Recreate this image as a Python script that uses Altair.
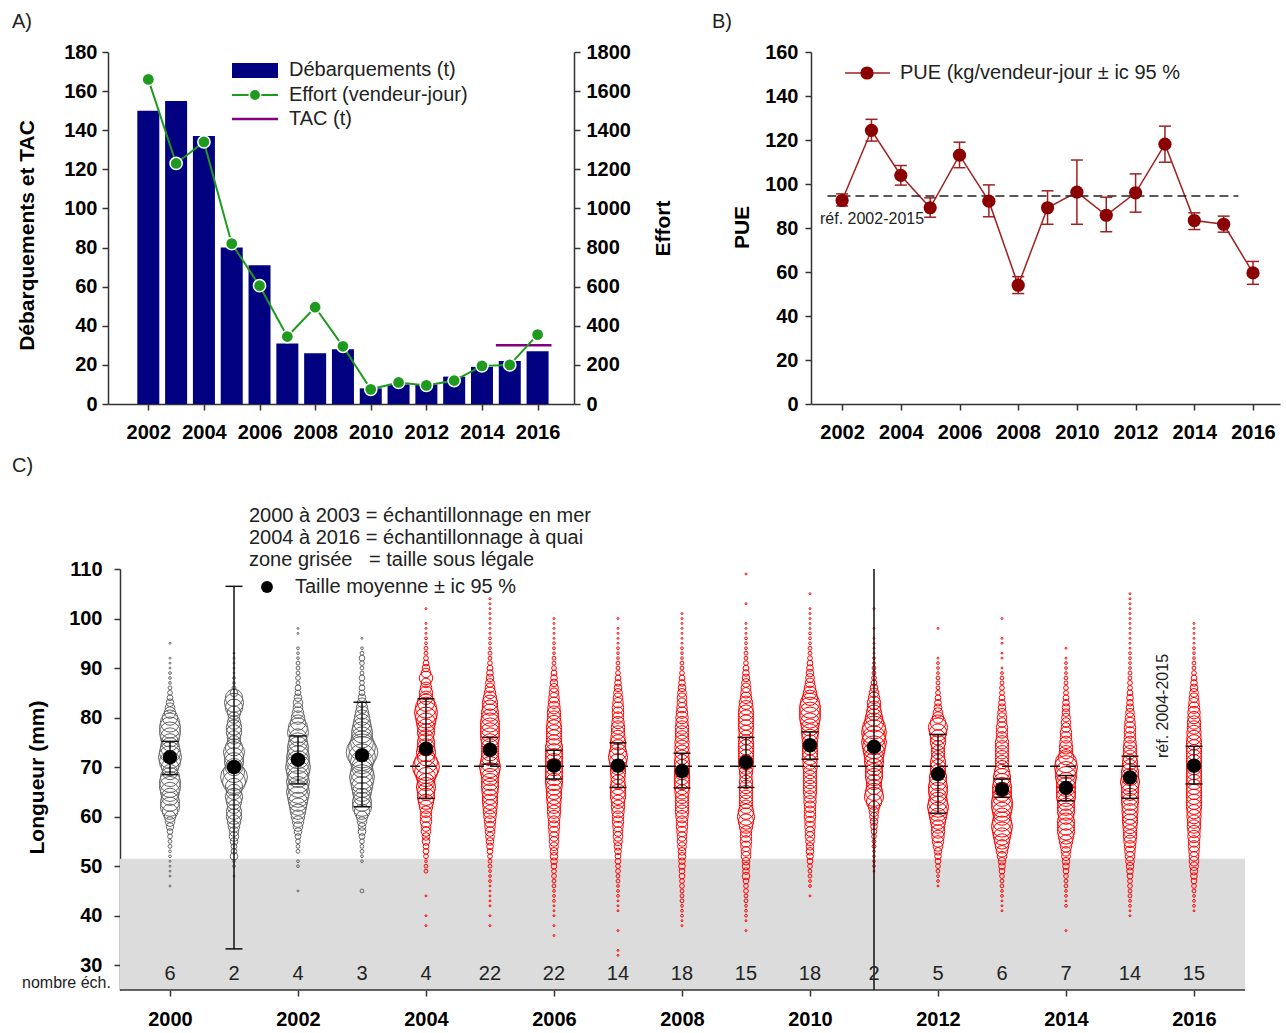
import altair as alt
import pandas as pd

FONT = "Liberation Sans"
NAVY = "#000080"
GREEN = "#1e9b1e"
PURPLE = "#800080"
DRED = "#8b0000"
BRED = "#a02020"
TXT = "#222222"

# ---------------- Panel A : landings, effort, TAC ----------------
years_a = list(range(2002, 2017))
landings_t = [150, 155, 137, 80, 71, 31, 26, 28, 8, 10, 10, 14, 19, 22, 27]
effort_vj = [1660, 1230, 1340, 820, 605, 345, 495, 295, 75, 110, 95, 120, 195, 200, 355]
tac_span = [2014.5, 2016.5]
tac_t = 30

# ---------------- Panel B : CPUE ----------------
pue = [92.5, 124.4, 103.9, 89.2, 113.1, 92.2, 54.0, 89.2, 96.3, 85.8, 96.0, 118.1, 83.4, 81.7, 59.6]
pue_lo = [90.0, 119.5, 99.5, 84.9, 107.4, 85.1, 50.2, 81.7, 81.7, 78.3, 87.2, 109.9, 79.3, 78.1, 54.4]
pue_hi = [95.5, 129.4, 108.4, 93.7, 119.0, 99.6, 57.9, 96.9, 110.9, 94.0, 104.6, 126.3, 86.9, 85.4, 64.8]
pue_ref = 94.5
pue_ref_span = [2001.5, 2015.5]

# ---------------- Panel C : length frequencies ----------------
years_c = list(range(2000, 2017))
n_samples = [6, 2, 4, 3, 4, 22, 22, 14, 18, 15, 18, 2, 5, 6, 7, 14, 15]
mean_len = [72.0, 70.0, 71.5, 72.4, 73.7, 73.5, 70.3, 70.3, 69.2, 71.0, 74.4, 74.1, 68.6, 65.5, 65.8, 67.9, 70.3]
ci_lo = [68.5, 33.3, 66.6, 62.0, 63.7, 70.6, 67.6, 65.9, 65.8, 65.9, 71.6, 15.0, 60.7, 63.9, 63.2, 63.7, 66.6]
ci_hi = [75.2, 106.5, 76.3, 83.1, 83.8, 76.0, 73.4, 74.9, 72.8, 76.0, 77.1, 133.0, 76.6, 67.6, 68.3, 72.2, 74.2]
len_ref = 70.2
len_ref_span = [2003.5, 2015.5]
legal_size = 51.5
sea_years_last = 2003

# first length (mm) of each year's frequency list
len_start = [46, 48, 45, 45, 38, 38, 36, 32, 38, 37, 44, 49, 46, 41, 37, 40, 41]
counts_2000 = [1,0,1,1,1,1,2,2,4,4, 6,9,16,25,36,64,100,100,81,100, 121,121,100,64,81,121,144,121,100,81,
               100,121,121,100,64,36,25,16,9,6, 4,2,2,2,1,1,1,0,0,1]
counts_2001 = [1,0,2,2,16,9,9,16,25,25, 36,49,64,64,49,64,81,64,81,144, 196,121,81,100,100,121,81,49,49,64,
               64,49,36,49,81,100,81,16,4,2, 2,1,1,1,1,1]
counts_2002 = [1,0,0,0,0,2,2,0,4,4, 6,9,16,25,36,49,64,81,100,121, 144,121,144,121,144,169,144,144,121,121,
               100,81,121,100,64,49,36,25,25,16, 9,9,4,6,4,4,4,2,2,2, 0,0,1,1]
counts_2003 = [4,0,0,0,0,0,2,2,4,4, 6,9,16,16,25,36,64,100,100,81, 100,121,144,169,144,121,144,196,272,196,
               144,121,121,100,81,64,49,36,25,16, 9,9,6,9,4,4,6,9,4,2, 0,1]
counts_2004 = [1,0,1,0,0,0,1,0,0,0, 0,4,4,2,6,9,9,16,16,25, 25,36,36,36,49,64,81,81,100,81,
               100,144,196,144,81,100,81,81,64,81, 81,100,121,144,121,81,49,49,36,25, 49,25,16,9,6,4,4,2,2,1,
               1,1,0,0,1]
counts_2005 = [1,0,1,0,1,1,1,1,1,2, 2,2,4,4,6,9,12,16,20,25, 30,36,42,49,56,64,64,72,81,81,
               81,100,121,100,81,81,81,81,100,100, 100,100,81,81,64,64,49,36,25,20, 16,12,9,6,4,4,2,2,2,1,
               1,1,1,1,1,1,1]
counts_2006 = [1,0,1,0,1,1,1,2,2,2, 4,4,6,6,9,12,16,16,20,25, 25,30,36,36,42,49,49,56,64,64,
               72,81,81,81,81,81,81,81,81,64, 64,64,64,56,49,49,42,36,30,25, 20,16,12,9,6,4,4,2,2,2,
               1,1,1,1,1]
counts_2007 = [1,1,0,0,0,1,0,0,0,1, 1,1,2,2,2,4,4,6,6,9, 9,12,16,20,25,25,30,36,36,42,
               49,49,64,64,64,56,56,64,64,81, 100,81,64,64,56,49,49,42,36,36, 36,30,25,20,16,12,9,6,4,4,
               2,2,2,1,1,1,1,0,1]
counts_2008 = [1,1,2,2,2,4,4,4,6,6, 9,9,12,12,16,16,20,25,25,30, 36,36,42,49,49,49,49,56,64,64,
               64,64,64,64,56,56,56,56,49,49, 49,42,42,36,30,25,25,20,16,12, 9,6,4,4,2,2,2,1,1,1,
               1,1,1,1]
counts_2009 = [1,0,1,2,2,2,4,4,6,6, 9,16,12,16,16,25,25,30,36,36, 36,49,64,81,64,49,49,49,49,49,
               49,42,49,56,64,64,64,64,64,56, 56,64,64,64,64,56,49,36,30,25, 20,16,12,9,6,4,4,2,2,2,
               1,1,1,0,0,0,1,0,0,0, 0,0,1]
counts_2010 = [1,0,2,2,4,4,6,9,12,16, 16,20,25,25,30,30,36,36,36,42, 42,49,49,49,49,49,56,56,64,64,
               64,64,72,81,81,100,121,121,121,100, 64,49,36,25,20,16,12,9,6,4, 4,2,2,2,1,1,1,1,1,0,
               0,1]
counts_2011 = [1,2,2,2,2,4,4,6,9,12, 16,20,25,36,64,100,81,64,64,81, 81,81,100,100,121,144,169,144,169,144,
               100,81,64,49,49,36,25,16,9,6, 4,4,2,2,1,1,1,1,0,1, 0,0,0,1]
counts_2012 = [1,2,2,4,6,9,12,16,25,36, 42,49,49,64,81,100,121,100,81,100, 100,81,81,64,64,64,49,49,49,64,
               64,81,100,64,36,25,16,12,9,6, 4,4,4,2,2,2,1,0,0,0, 0,0,1]
counts_2013 = [1,1,1,2,2,4,4,6,9,12, 16,25,36,49,64,81,100,121,100,81, 100,121,121,100,100,100,81,81,64,49,
               49,49,49,49,49,36,36,36,25,25, 20,16,12,9,6,6,4,4,2,1, 0,1,1,0,1,1,0,0,0,1]
counts_2014 = [1,0,0,0,0,2,1,2,2,4, 4,6,9,12,16,20,25,36,49,64, 81,81,81,64,81,81,81,100,100,100,
               100,121,121,144,121,64,49,49,42,36, 36,25,25,20,16,16,12,9,6,6, 4,4,2,2,2,1,0,1]
counts_2015 = [1,1,2,2,4,4,6,6,9,12, 16,20,25,30,36,42,49,49,56,64, 64,72,72,81,81,81,81,100,81,81,
               64,64,56,49,49,42,36,36,36,30, 25,20,16,12,12,9,6,6,4,4, 2,2,2,2,1,1,1,1,1,1,
               1,1,1,1,1,1]
counts_2016 = [1,2,2,2,4,6,9,12,16,20, 25,25,30,36,36,42,42,49,49,56, 56,64,64,64,64,64,64,64,64,64,
               64,64,64,64,64,56,56,49,49,42, 42,36,30,25,20,16,12,9,6,4, 4,2,2,2,1,1,1,1,1]
counts_by_year = [counts_2000, counts_2001, counts_2002, counts_2003, counts_2004, counts_2005,
                  counts_2006, counts_2007, counts_2008, counts_2009, counts_2010, counts_2011,
                  counts_2012, counts_2013, counts_2014, counts_2015, counts_2016]

one = pd.DataFrame({"k": [0]})


def label(text, x, y, size=20, align="left", angle=0, color=TXT):
    kw = dict(align=align, baseline="middle", fontSize=size, font=FONT, color=color)
    if angle:
        kw["angle"] = angle
    return alt.Chart(one).mark_text(**kw).encode(
        x=alt.value(x), y=alt.value(y), text=alt.value(text))


def extent(x0, x1, y0, y1):
    # invisible box that fixes the panel's layout bounds
    return alt.Chart(one).mark_rect(fill="white", opacity=0).encode(
        x=alt.value(x0), x2=alt.value(x1), y=alt.value(y0), y2=alt.value(y1))


AX = dict(labelFont=FONT, labelFontSize=20, labelFontWeight="bold", labelColor="black",
          titleFont=FONT, titleFontSize=21, titleFontWeight="bold", titleColor="black",
          domainColor="#333333", domainWidth=1.5, tickColor="#333333", tickWidth=1.5, tickSize=6,
          grid=False, labelFlush=False)

# ================= Panel A =================
dfA = pd.DataFrame({"year": years_a, "landings": landings_t, "effort": effort_vj})
xA_scale = alt.Scale(domain=[2000.73, 2017.13], nice=False, zero=False)
xA_axis = alt.Axis(values=list(range(2002, 2017, 2)), format="d", title=None, labelPadding=12, **AX)
yL_scale = alt.Scale(domain=[0, 180], nice=False)
yL_axis = alt.Axis(values=list(range(0, 181, 20)), title="Débarquements et TAC",
                   titleX=-81, titleY=183, titleAngle=270, titleBaseline="middle", labelPadding=5, **AX)
yR_scale = alt.Scale(domain=[0, 1800], nice=False)
yR_axis = alt.Axis(orient="right", values=list(range(0, 1801, 200)), format="d", title="Effort",
                   titleX=89, titleY=176, titleAngle=270, titleBaseline="middle", labelPadding=6, **AX)

bars = alt.Chart(dfA).mark_bar(size=22, color=NAVY).encode(
    x=alt.X("year:Q", scale=xA_scale, axis=xA_axis),
    y=alt.Y("landings:Q", scale=yL_scale, axis=yL_axis))
tacdf = pd.DataFrame({"x0": [tac_span[0]], "x1": [tac_span[1]], "tac": [tac_t]})
tac = alt.Chart(tacdf).mark_rule(color=PURPLE, strokeWidth=2.5).encode(
    x=alt.X("x0:Q", scale=xA_scale, axis=xA_axis), x2="x1:Q",
    y=alt.Y("tac:Q", scale=yL_scale, axis=yL_axis))
left = alt.layer(bars, tac)

eline = alt.Chart(dfA).mark_line(color=GREEN, strokeWidth=2).encode(
    x=alt.X("year:Q", scale=xA_scale, axis=xA_axis),
    y=alt.Y("effort:Q", scale=yR_scale, axis=yR_axis))
epts = alt.Chart(dfA).mark_point(filled=True, size=150, fill=GREEN, stroke="white",
                                 strokeWidth=1.5, opacity=1).encode(
    x=alt.X("year:Q", scale=xA_scale, axis=xA_axis),
    y=alt.Y("effort:Q", scale=yR_scale, axis=yR_axis))
right = alt.layer(eline, epts)

legA = [
    alt.Chart(one).mark_rect(color=NAVY).encode(x=alt.value(124), x2=alt.value(170),
                                                y=alt.value(11), y2=alt.value(26)),
    alt.Chart(one).mark_rule(color=GREEN, strokeWidth=2).encode(x=alt.value(124), x2=alt.value(170),
                                                                y=alt.value(43)),
    alt.Chart(one).mark_point(filled=True, size=130, fill=GREEN, stroke="white", strokeWidth=1.5,
                              opacity=1).encode(x=alt.value(147), y=alt.value(43)),
    alt.Chart(one).mark_rule(color=PURPLE, strokeWidth=2.5).encode(x=alt.value(124), x2=alt.value(170),
                                                                   y=alt.value(67)),
    label("Débarquements (t)", 181, 18),
    label("Effort (vendeur-jour)", 181, 43),
    label("TAC (t)", 181, 67),
    label("A)", -96, -30),
    extent(-96, 590, -44, 400),
]
chartA = alt.layer(left, right, *legA).resolve_scale(y="independent").properties(width=466, height=352)

# ================= Panel B =================
dfB = pd.DataFrame({"year": years_a, "pue": pue, "lo": pue_lo, "hi": pue_hi})
xB_scale = alt.Scale(domain=[2000.94, 2016.92], nice=False, zero=False)
yB_scale = alt.Scale(domain=[0, 160], nice=False)
xB_axis = alt.Axis(values=list(range(2002, 2017, 2)), format="d", title=None, labelPadding=12, **AX)
yB_axis = alt.Axis(values=list(range(0, 161, 20)), title="PUE", titleX=-69, titleY=175,
                   titleAngle=270, titleBaseline="middle", labelPadding=7, **AX)


def xb(f="year:Q"):
    return alt.X(f, scale=xB_scale, axis=xB_axis)


def yb(f):
    return alt.Y(f, scale=yB_scale, axis=yB_axis)


bline = alt.Chart(dfB).mark_line(color=BRED, strokeWidth=1.5).encode(x=xb(), y=yb("pue:Q"))
berr = alt.Chart(dfB).mark_rule(color=BRED, strokeWidth=1.5).encode(x=xb(), y=yb("lo:Q"), y2="hi:Q")
bcap1 = alt.Chart(dfB).mark_tick(orient="horizontal", size=12, thickness=1.5, color=BRED,
                                 opacity=1).encode(x=xb(), y=yb("lo:Q"))
bcap2 = alt.Chart(dfB).mark_tick(orient="horizontal", size=12, thickness=1.5, color=BRED,
                                 opacity=1).encode(x=xb(), y=yb("hi:Q"))
bref_df = pd.DataFrame({"x0": [pue_ref_span[0]], "x1": [pue_ref_span[1]], "ref": [pue_ref]})
bref = alt.Chart(bref_df).mark_rule(color="#222", strokeWidth=1.5, strokeDash=[9, 5]).encode(
    x=xb("x0:Q"), x2="x1:Q", y=yb("ref:Q"))
bpts = alt.Chart(dfB).mark_circle(size=175, color=DRED, opacity=1).encode(x=xb(), y=yb("pue:Q"))
legB = [
    alt.Chart(one).mark_rule(color=BRED, strokeWidth=1.5).encode(x=alt.value(34), x2=alt.value(79),
                                                                 y=alt.value(21)),
    alt.Chart(one).mark_circle(size=175, color=DRED, opacity=1).encode(x=alt.value(56), y=alt.value(21)),
    label("PUE (kg/vendeur-jour ± ic 95 %", 89, 21),
    label("réf. 2002-2015", 9, 167, size=16),
    label("B)", -99, -30),
    extent(-99, 475, -44, 400),
]
chartB = alt.layer(bline, bref, berr, bcap1, bcap2, bpts, *legB).properties(width=469, height=352)

# ================= Panel C =================
rows = []
for yr, start, counts in zip(years_c, len_start, counts_by_year):
    for i, c in enumerate(counts):
        if c > 0:
            rows.append({"year": yr, "length": start + i, "n": c,
                         "zone": "mer" if yr <= sea_years_last else "quai"})
dfBub = pd.DataFrame(rows)
dfM = pd.DataFrame({"year": years_c, "mean": mean_len, "lo": ci_lo, "hi": ci_hi,
                    "ns": [str(v) for v in n_samples]})

# plot frame of panel C (the y axis sits 12 px inside the drawing area)
frame_x = [1999.21875, 2016.797]
yC_dom = [25, 110]
xC_scale = alt.Scale(domain=[1999.03125, frame_x[1]], nice=False, zero=False)
yC_scale = alt.Scale(domain=yC_dom, nice=False, zero=False)
xC_axis = alt.Axis(values=list(range(2000, 2017, 2)), format="d", title=None, labelPadding=13,
                   domain=False, **AX)
yC_axis = alt.Axis(values=list(range(30, 111, 10)), title="Longueur (mm)", offset=-12,
                   titleX=-83, titleY=208, titleAngle=270, titleBaseline="middle", labelPadding=12, **AX)


def xc(f="year:Q"):
    return alt.X(f, scale=xC_scale, axis=xC_axis)


def yc(f):
    return alt.Y(f, scale=yC_scale, axis=yC_axis)


frame = pd.DataFrame({"x0": [frame_x[0]], "x1": [frame_x[1]], "y0": [yC_dom[0]], "y1": [legal_size]})
grey = alt.Chart(frame).mark_rect(color="#dcdcdc").encode(x=xc("x0:Q"), x2="x1:Q", y=yc("y0:Q"), y2="y1:Q")
baseline = alt.Chart(frame).mark_rule(color="#333333", strokeWidth=1.5).encode(
    x=xc("x0:Q"), x2="x1:Q", y=yc("y0:Q"))
bubbles = alt.Chart(dfBub).mark_point(shape="circle", filled=False, strokeWidth=1, opacity=1).encode(
    x=xc(), y=yc("length:Q"),
    size=alt.Size("n:Q", scale=alt.Scale(domain=[0, 300], range=[0, 1100]), legend=None),
    stroke=alt.Stroke("zone:N", scale=alt.Scale(domain=["mer", "quai"], range=["#666666", "#ff0000"]),
                      legend=None))
cref_df = pd.DataFrame({"x0": [len_ref_span[0]], "x1": [len_ref_span[1]], "ref": [len_ref]})
cref = alt.Chart(cref_df).mark_rule(color="#111", strokeWidth=1.5, strokeDash=[10, 6]).encode(
    x=xc("x0:Q"), x2="x1:Q", y=yc("ref:Q"))
cerr = alt.Chart(dfM).mark_rule(color="#111", strokeWidth=1.5, clip=True).encode(
    x=xc(), y=yc("lo:Q"), y2="hi:Q")
ccap1 = alt.Chart(dfM).mark_tick(orient="horizontal", size=17, thickness=1.5, color="#111",
                                 opacity=1, clip=True).encode(x=xc(), y=yc("lo:Q"))
ccap2 = alt.Chart(dfM).mark_tick(orient="horizontal", size=17, thickness=1.5, color="#111",
                                 opacity=1, clip=True).encode(x=xc(), y=yc("hi:Q"))
cmean = alt.Chart(dfM).mark_circle(size=210, color="black", opacity=1).encode(x=xc(), y=yc("mean:Q"))
cnum = alt.Chart(dfM).mark_text(fontSize=20, font=FONT, color=TXT, baseline="middle").encode(
    x=xc(), y=alt.value(405), text="ns:N")
NB = "\u00a0"
legC = [
    label("2000 à 2003 = échantillonnage en mer", 141, -53),
    label("2004 à 2016 = échantillonnage à quai", 141, -31),
    label("zone grisée" + NB * 3 + "= taille sous légale", 141, -9),
    alt.Chart(one).mark_circle(size=140, color="black", opacity=1).encode(x=alt.value(159), y=alt.value(18)),
    label("Taille moyenne ± ic 95 %", 187, 18),
    label("nombre éch.", -86, 414, size=16),
    label("réf. 2004-2015", 1055, 137, size=16, align="center", angle=270),
    label("C)", -96, -103),
    extent(-96, 1140, -115, 460),
]
chartC = alt.layer(grey, baseline, bubbles, cref, cerr, ccap1, ccap2, cmean, cnum, *legC).properties(
    width=1137, height=421)

top = alt.hconcat(chartA, chartB, spacing=14)
chart = alt.vconcat(top, chartC, spacing=2).properties(
    padding={"left": 12, "top": 8, "right": 0, "bottom": 0})
chart = chart.configure_view(stroke=None).configure_text(font=FONT)

chart.save("out.html", embed_options={"renderer": "svg", "actions": False})
